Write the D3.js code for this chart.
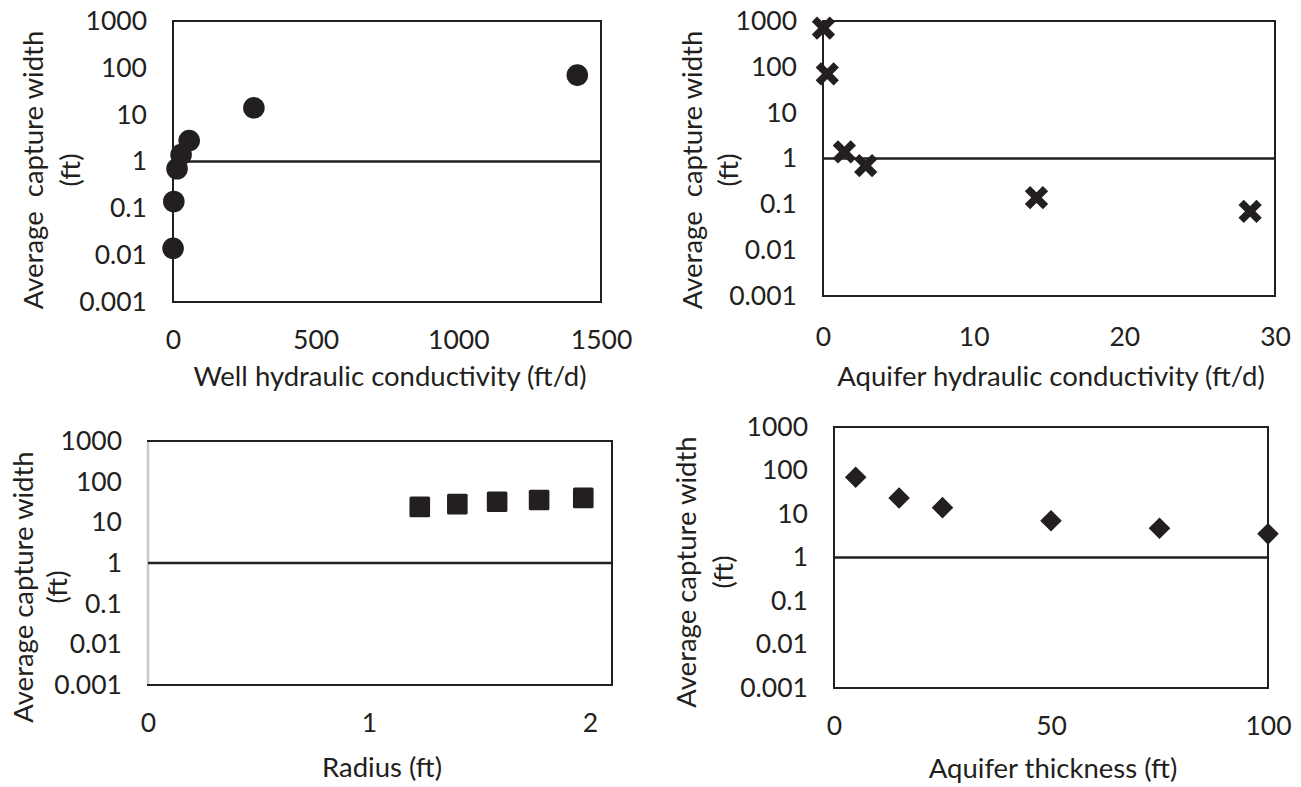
<!DOCTYPE html>
<html>
<head>
<meta charset="utf-8">
<script src="https://cdn.jsdelivr.net/npm/d3@7"></script>
<style>
  body { margin: 0; background: #fff; }
  text { font-family: Lato, "Open Sans", sans-serif; fill: #231f20; }
</style>
</head>
<body>
<div id="viz"></div>
<script>
// values
var wellK = [0.2835, 2.835, 14.17, 28.35, 56.7, 283.5, 1417];
var wellWidth = [0.014, 0.14, 0.7, 1.4, 2.8, 14, 70];

var aquiferK = [0.02835, 0.2835, 1.417, 2.835, 14.17, 28.35];
var aquiferWidth = [700, 70, 1.4, 0.7, 0.14, 0.07];

var radius = [1.23, 1.4, 1.58, 1.77, 1.97];
var radiusWidth = [24, 28, 32, 35.5, 40];

var thickness = [5, 15, 25, 50, 75, 100];
var thicknessWidth = [70, 23.3, 14, 7, 4.7, 3.5];

var yTicks = [0.001, 0.01, 0.1, 1, 10, 100, 1000];
var wellKTicks = [0, 500, 1000, 1500];
var aquiferKTicks = [0, 10, 20, 30];
var radiusTicks = [0, 1, 2];
var thicknessTicks = [0, 50, 100];

var ink = '#231f20';
var tickFont = '26.5px', titleFont = '27.5px';

var svg = d3.select('#viz').append('svg')
  .attr('width', 1301)
  .attr('height', 787);

var markers = {
  circle: function(g) { g.append('circle').attr('r', 10.8).attr('fill', ink); },
  cross: function(g) {
    g.append('path').attr('d', 'M-9,-9L9,9M-9,9L9,-9')
      .attr('stroke', ink).attr('stroke-width', 7.5).attr('fill', 'none');
  },
  square: function(g) {
    g.append('rect').attr('x', -10.3).attr('y', -10.3).attr('width', 20.6).attr('height', 20.6)
      .attr('rx', 1.5).attr('fill', ink);
  },
  diamond: function(g) {
    g.append('path').attr('d', 'M0,-10.8L10.8,0L0,10.8L-10.8,0Z').attr('fill', ink);
  }
};

function panel(c) {
  var x = d3.scaleLinear().domain(c.xDomain).range([c.left, c.right]);
  var y = d3.scaleLog().domain([0.001, 1000]).range([c.bottom, c.top]);
  var g = svg.append('g');

  // plot area border
  g.append('rect')
    .attr('x', c.left).attr('y', c.top)
    .attr('width', c.right - c.left).attr('height', c.bottom - c.top)
    .attr('fill', 'none').attr('stroke', ink).attr('stroke-width', 2);
  if (c.greyLeft) {
    g.append('line')
      .attr('x1', c.left).attr('x2', c.left).attr('y1', c.top + 1).attr('y2', c.bottom - 1)
      .attr('stroke', '#c8c8c8').attr('stroke-width', 2.5);
  }

  // horizontal axis crosses at 1
  g.append('line')
    .attr('x1', x.range()[0]).attr('x2', x.range()[1])
    .attr('y1', y(1)).attr('y2', y(1))
    .attr('stroke', ink).attr('stroke-width', 2.5);

  var ya = g.append('g')
    .attr('transform', 'translate(' + c.left + ',0)')
    .call(d3.axisLeft(y).tickValues(yTicks).tickSize(0).tickPadding(26).tickFormat(d3.format('~g')));
  ya.select('.domain').remove();
  ya.selectAll('text').style('font-size', tickFont).attr('fill', null);

  var xa = g.append('g')
    .attr('transform', 'translate(0,' + c.labelY + ')')
    .call(d3.axisBottom(x).tickValues(c.xTicks).tickSize(0).tickPadding(0).tickFormat(d3.format('~g')));
  xa.select('.domain').remove();
  xa.selectAll('text').style('font-size', tickFont).attr('dy', '0.35em').attr('fill', null);
  ya.attr('font-family', null);
  xa.attr('font-family', null);

  g.append('text')
    .attr('x', c.titleX).attr('y', c.titleY).attr('dy', '0.35em')
    .attr('text-anchor', 'middle').style('font-size', titleFont)
    .text(c.xTitle);

  g.append('text')
    .attr('transform', 'translate(' + c.yTitleX + ',' + c.yTitleY + ') rotate(-90)')
    .attr('dy', '0.35em').attr('text-anchor', 'middle').style('font-size', titleFont)
    .style('white-space', 'pre')
    .text(c.yTitle);
  g.append('text')
    .attr('transform', 'translate(' + c.ftX + ',' + c.yTitleY + ') rotate(-90)')
    .attr('dy', '0.35em').attr('text-anchor', 'middle').style('font-size', titleFont)
    .text('(ft)');

  g.selectAll('.pt')
    .data(d3.zip(c.xs, c.ys))
    .join('g')
    .attr('class', 'pt')
    .attr('transform', function(d) { return 'translate(' + x(d[0]) + ',' + y(d[1]) + ')'; })
    .each(function() { markers[c.marker](d3.select(this)); });
}

panel({
  left: 173, right: 601, top: 21, bottom: 302,
  xDomain: [0, 1500], xTicks: wellKTicks, labelY: 340,
  xTitle: 'Well hydraulic conductivity (ft/d)', titleX: 390, titleY: 376,
  yTitle: 'Average  capture width', yTitleX: 33, ftX: 70, yTitleY: 170,
  xs: wellK, ys: wellWidth, marker: 'circle'
});

panel({
  left: 823, right: 1275, top: 21, bottom: 296,
  xDomain: [0, 30], xTicks: aquiferKTicks, labelY: 337,
  xTitle: 'Aquifer hydraulic conductivity (ft/d)', titleX: 1051, titleY: 376,
  yTitle: 'Average  capture width', yTitleX: 692, ftX: 728, yTitleY: 170,
  xs: aquiferK, ys: aquiferWidth, marker: 'cross'
});

panel({
  left: 148, right: 612, top: 441, bottom: 685,
  xDomain: [0, 2.1], xTicks: radiusTicks, labelY: 723,
  xTitle: 'Radius (ft)', titleX: 382, titleY: 767,
  yTitle: 'Average capture width', yTitleX: 23, ftX: 57, yTitleY: 587,
  xs: radius, ys: radiusWidth, marker: 'square', greyLeft: true
});

panel({
  left: 834, right: 1268, top: 427, bottom: 688,
  xDomain: [0, 100], xTicks: thicknessTicks, labelY: 726,
  xTitle: 'Aquifer thickness (ft)', titleX: 1053, titleY: 768,
  yTitle: 'Average capture width', yTitleX: 686, ftX: 723, yTitleY: 572,
  xs: thickness, ys: thicknessWidth, marker: 'diamond'
});
</script>
</body>
</html>
